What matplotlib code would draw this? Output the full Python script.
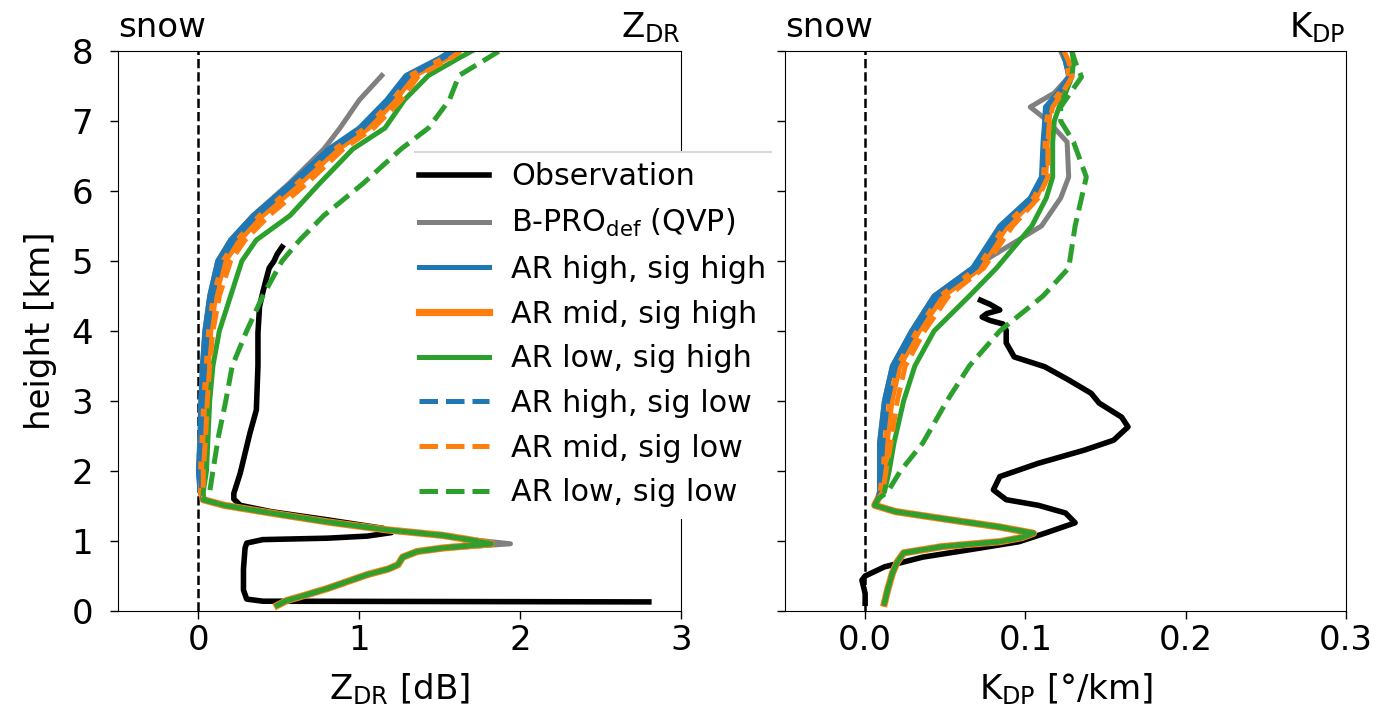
import numpy as np
import matplotlib
matplotlib.use("Agg")
import matplotlib.pyplot as plt
from matplotlib.lines import Line2D
from matplotlib.transforms import IdentityTransform

# ---------------- data ----------------
labels = ["Observation", r"B-PRO$_\mathregular{def}$ (QVP)",
          "AR high, sig high", "AR mid, sig high", "AR low, sig high",
          "AR high, sig low", "AR mid, sig low", "AR low, sig low"]

# ZDR observation
obs_zdr_h = [0.13, 0.14, 0.17, 0.3, 0.6, 0.9, 0.97, 1.02, 1.04, 1.07, 1.12, 1.18, 1.3, 1.42,
             1.51, 1.6, 1.68, 1.97, 2.54, 2.87, 3.5, 3.97, 4.35, 4.55, 4.73, 4.9, 5.0, 5.1, 5.2]
obs_zdr_v = [2.80, 0.40, 0.30, 0.28, 0.28, 0.29, 0.30, 0.40, 0.80, 1.05, 1.20, 1.15, 0.81, 0.45,
             0.26, 0.22, 0.22, 0.26, 0.32, 0.36, 0.37, 0.37, 0.38, 0.40, 0.42, 0.44, 0.47, 0.49, 0.52]

# ZDR model: shared lower part (below 1.6 km)
zdr_low_h = [0.08, 0.15, 0.23, 0.32, 0.40, 0.52, 0.60, 0.66, 0.77, 0.85, 0.90, 0.96,
             1.02, 1.08, 1.16, 1.27, 1.40, 1.51, 1.59]
zdr_low_v = [0.49, 0.55, 0.67, 0.80, 0.90, 1.05, 1.18, 1.24, 1.27, 1.36, 1.52, 1.82,
             1.68, 1.52, 1.17, 0.81, 0.45, 0.16, 0.03]
zdr_bpro_low_v = [0.49, 0.55, 0.67, 0.80, 0.90, 1.05, 1.18, 1.24, 1.27, 1.36, 1.55, 1.94,
                  1.70, 1.52, 1.17, 0.81, 0.45, 0.16, 0.03]

# ZDR model: upper part
zdr_up_h = [1.7, 2.0, 2.5, 3.0, 3.5, 4.0, 4.5, 5.0, 5.3, 5.65, 6.1, 6.6, 6.9, 7.3, 7.65, 7.9, 8.0]
zdr_bpro_up = [0.01, 0.0, 0.01, 0.015, 0.025, 0.04, 0.07, 0.12, 0.20, 0.34, 0.56, 0.78, 0.88, 1.00, 1.14]
zdr_hh = [0.01, 0.0, 0.01, 0.015, 0.025, 0.04, 0.07, 0.12, 0.20, 0.34, 0.57, 0.81, 1.00, 1.17, 1.29, 1.50, 1.57]
zdr_mh = [0.02, 0.02, 0.03, 0.04, 0.055, 0.07, 0.10, 0.16, 0.25, 0.39, 0.62, 0.86, 1.05, 1.22, 1.33, 1.54, 1.60]
zdr_lh = [0.03, 0.05, 0.06, 0.07, 0.09, 0.13, 0.20, 0.27, 0.36, 0.57, 0.75, 0.96, 1.16, 1.28, 1.43, 1.62, 1.70]
zdr_hl = [0.02, 0.01, 0.02, 0.03, 0.04, 0.055, 0.085, 0.14, 0.22, 0.36, 0.59, 0.83, 1.02, 1.19, 1.31, 1.52, 1.59]
zdr_ml = [0.03, 0.03, 0.045, 0.055, 0.07, 0.09, 0.13, 0.20, 0.29, 0.44, 0.67, 0.90, 1.09, 1.26, 1.37, 1.57, 1.63]
zdr_ll = [0.07, 0.09, 0.125, 0.17, 0.21, 0.30, 0.40, 0.52, 0.63, 0.78, 1.02, 1.26, 1.43, 1.56, 1.62, 1.80, 1.87]

# KDP observation
obs_kdp_h = [0.11, 0.25, 0.44, 0.5, 0.63, 0.77, 0.9, 0.99, 1.11, 1.26, 1.4, 1.51, 1.59, 1.73,
             1.92, 2.11, 2.3, 2.44, 2.63, 2.77, 2.97, 3.11, 3.3, 3.49, 3.63, 3.83, 4.01,
             4.1, 4.15, 4.2, 4.25, 4.3, 4.38, 4.44]
obs_kdp_v = [0.0, 0.0, -0.002, 0.0, 0.012, 0.036, 0.072, 0.096, 0.112, 0.131, 0.125, 0.108,
             0.088, 0.080, 0.084, 0.108, 0.137, 0.155, 0.164, 0.160, 0.146, 0.141, 0.127,
             0.112, 0.093, 0.088, 0.088, 0.086, 0.078, 0.073, 0.076, 0.084, 0.078, 0.072]

# KDP model: shared lower part
kdp_low_h = [0.11, 0.3, 0.54, 0.7, 0.83, 0.92, 0.99, 1.05, 1.11, 1.2, 1.32, 1.42, 1.51, 1.6]
kdp_low_v = [0.012, 0.014, 0.017, 0.020, 0.024, 0.048, 0.084, 0.098, 0.105, 0.084, 0.048,
             0.019, 0.006, 0.008]

# KDP model: upper part
kdp_up_h = [1.7, 2.0, 2.4, 3.0, 3.5, 4.0, 4.5, 4.9, 5.5, 5.9, 6.2, 6.7, 7.0, 7.2, 7.4, 7.63, 7.85, 8.0]
kdp_bpro_up = [0.009, 0.009, 0.009, 0.012, 0.017, 0.029, 0.043, 0.067, 0.110, 0.122, 0.127,
               0.126, 0.114, 0.103, 0.118, 0.127]
kdp_hh = [0.009, 0.009, 0.009, 0.012, 0.017, 0.029, 0.043, 0.067, 0.084, 0.103, 0.110, 0.111,
          0.112, 0.1125, 0.120, 0.127, 0.125, 0.122]
kdp_mh = [0.010, 0.012, 0.013, 0.016, 0.021, 0.033, 0.048, 0.071, 0.088, 0.106, 0.112, 0.113,
          0.114, 0.115, 0.122, 0.128, 0.126, 0.123]
kdp_lh = [0.012, 0.015, 0.018, 0.024, 0.031, 0.043, 0.065, 0.082, 0.104, 0.113, 0.117, 0.117,
          0.118, 0.121, 0.125, 0.129, 0.130, 0.129]
kdp_hl = [0.009, 0.010, 0.011, 0.014, 0.019, 0.031, 0.045, 0.069, 0.086, 0.104, 0.111, 0.112,
          0.113, 0.114, 0.121, 0.127, 0.125, 0.123]
kdp_ml = [0.011, 0.013, 0.016, 0.020, 0.025, 0.037, 0.052, 0.074, 0.092, 0.108, 0.114, 0.114,
          0.115, 0.117, 0.123, 0.129, 0.127, 0.124]
kdp_ll = [0.014, 0.022, 0.036, 0.051, 0.065, 0.084, 0.111, 0.127, 0.131, 0.135, 0.138, 0.130,
          0.122, 0.122, 0.128, 0.135, 0.131, 0.129]

# ---------------- styling ----------------
FS = 24.5
plt.rcParams['font.family'] = ['DejaVu Sans']
plt.rcParams['font.size'] = FS
plt.rcParams['mathtext.default'] = 'regular'

C_BLUE, C_ORANGE, C_GREEN, C_GRAY = '#1f77b4', '#ff7f0e', '#2ca02c', '#808080'
LW = 3.6

fig = plt.figure(figsize=(13.86, 7.11), dpi=100)
ax1 = fig.add_axes([118/1386, 100/711, 563/1386, 560/711])
ax2 = fig.add_axes([785/1386, 100/711, 561/1386, 560/711], sharey=ax1)


def full(low_h, low_v, up_h, up_v):
    h = list(low_h) + list(up_h[:len(up_v)])
    v = list(low_v) + list(up_v)
    return v, h


def draw(ax, obs_v, obs_h, low_h, low_v, bpro_low_v, up_h, bpro_up, series):
    ax.axvline(0, color='k', ls='--', lw=1.8, zorder=1)
    ax.plot(obs_v, obs_h, color='k', lw=LW + 0.4, label=labels[0])
    v, h = full(low_h, bpro_low_v, up_h, bpro_up)
    ax.plot(v, h, color=C_GRAY, lw=LW, label=labels[1])
    styles = [(C_BLUE, '-', LW), (C_ORANGE, '-', LW + 1.6), (C_GREEN, '-', LW),
              (C_BLUE, '--', LW), (C_ORANGE, '--', LW), (C_GREEN, '--', LW)]
    for (c, ls, lw), s, lab in zip(styles, series, labels[2:]):
        v, h = full(low_h, low_v, up_h, s)
        ax.plot(v, h, color=c, ls=ls, lw=lw, label=lab)


draw(ax1, obs_zdr_v, obs_zdr_h, zdr_low_h, zdr_low_v, zdr_bpro_low_v, zdr_up_h, zdr_bpro_up,
     [zdr_hh, zdr_mh, zdr_lh, zdr_hl, zdr_ml, zdr_ll])
draw(ax2, obs_kdp_v, obs_kdp_h, kdp_low_h, kdp_low_v, kdp_low_v, kdp_up_h, kdp_bpro_up,
     [kdp_hh, kdp_mh, kdp_lh, kdp_hl, kdp_ml, kdp_ll])

ax1.set_xlim(-0.5, 3)
ax1.set_xticks([0, 1, 2, 3])
ax1.set_ylim(0, 8)
ax1.set_yticks(range(0, 9))
ax2.set_xlim(-0.05, 0.3)
ax2.set_xticks([0.0, 0.1, 0.2, 0.3])
ax2.tick_params(labelleft=False)

ax1.set_xlabel(r'Z$_\mathregular{DR}$ [dB]', labelpad=10)
ax2.set_xlabel(r'K$_\mathregular{DP}$ [°/km]', labelpad=10)
ax1.set_ylabel('height [km]', labelpad=10)
for ax, name in ((ax1, r'Z$_\mathregular{DR}$'), (ax2, r'K$_\mathregular{DP}$')):
    ax.set_title('snow', loc='left', fontsize=FS, pad=10)
    ax.set_title(name, loc='right', fontsize=FS, pad=10)
    ax.tick_params(labelsize=FS, length=6, width=1)
    ax.tick_params(axis='y', pad=12)

SIDE = 7
leg = ax1.legend(loc='upper left', bbox_to_anchor=(408/1386, 1 - 151/711),
                 bbox_transform=fig.transFigure, borderaxespad=0, fontsize=21.7,
                 frameon=True, fancybox=False, framealpha=1.0, borderpad=0.38,
                 labelspacing=0.52, handlelength=2.3, handletextpad=0.75)
leg.get_frame().set_edgecolor('none')
leg.set_zorder(10)

fig.canvas.draw()
bb = leg.get_window_extent()
fig.add_artist(Line2D([bb.x0 + SIDE, bb.x1 - SIDE], [bb.y1 - 1, bb.y1 - 1],
                      transform=IdentityTransform(), color='#d9d9d9', lw=1.5, zorder=20))

fig.savefig('out.png', dpi=100)
